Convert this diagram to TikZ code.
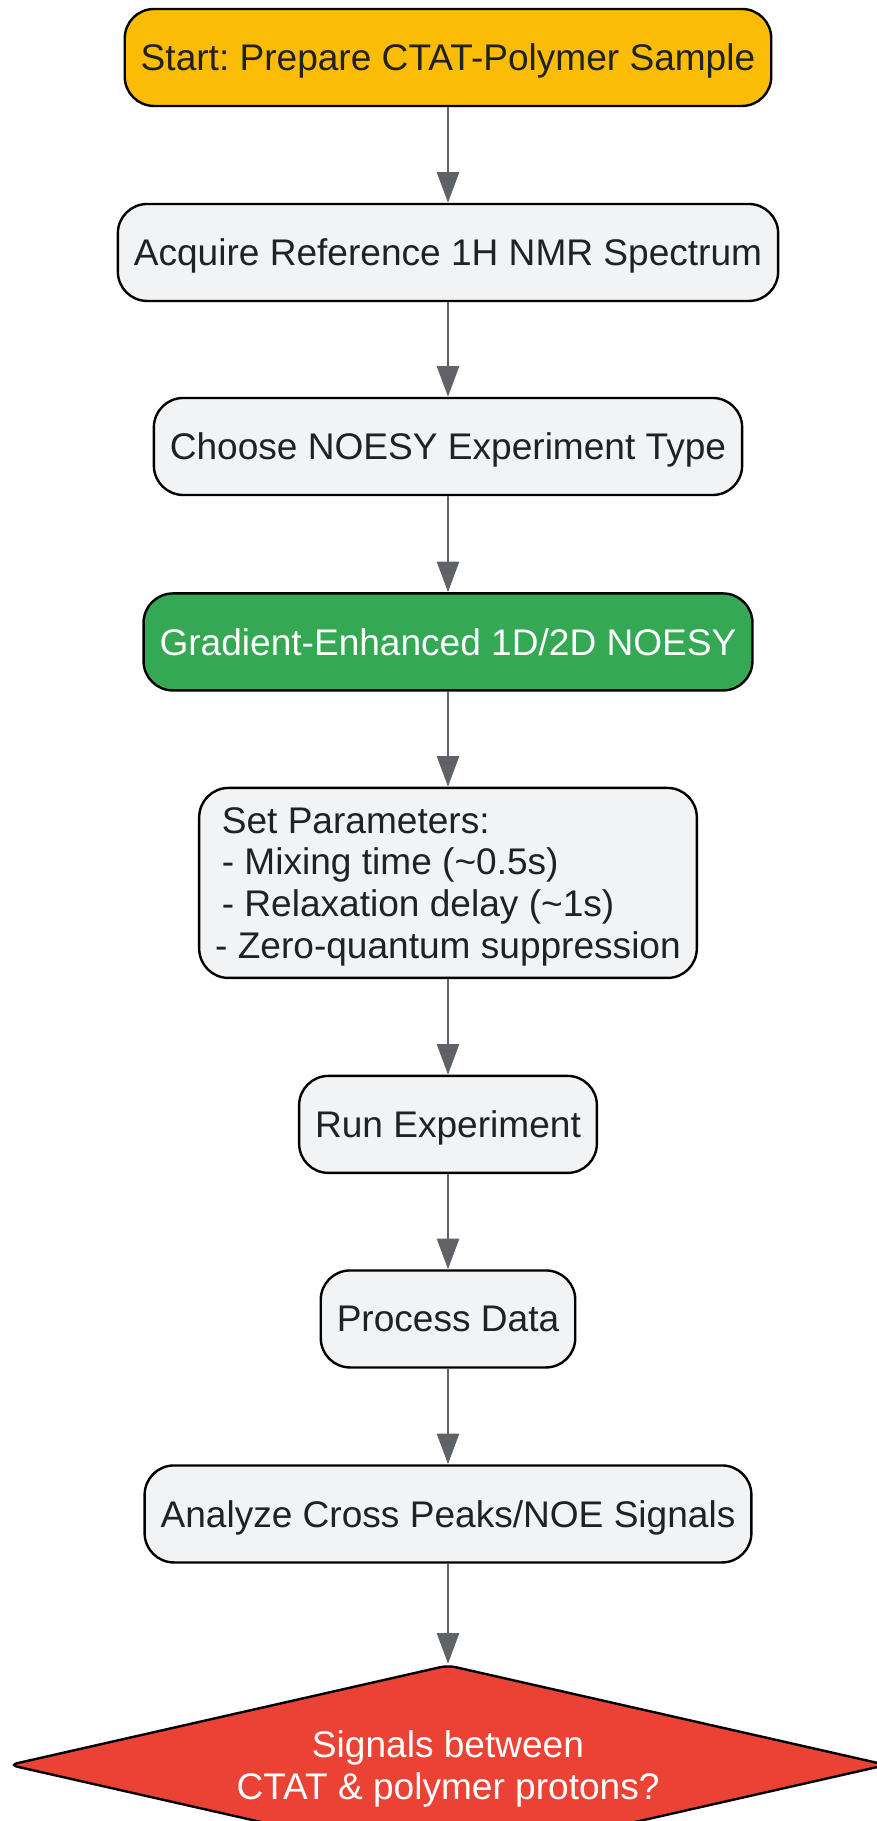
\documentclass[tikz,border=0pt]{standalone}
\usepackage{fontspec}
\setmainfont{Liberation Sans}
\frenchspacing
\usetikzlibrary{shapes.geometric,arrows.meta,positioning}

\definecolor{startyellow}{HTML}{FBBC05}
\definecolor{stepgray}{HTML}{F1F3F4}
\definecolor{noesygreen}{HTML}{34A853}
\definecolor{decisionred}{HTML}{EA4335}
\definecolor{textdark}{HTML}{202124}
\definecolor{arrowgray}{HTML}{5F6368}

\tikzset{
  procbox/.style={draw=black, line width=1.8pt, rectangle, rounded corners=22pt,
    fill=stepgray, text=textdark, minimum height=72.75pt, inner xsep=12pt,
    text depth=0pt, font=\fontsize{27.8}{31.4}\selectfont},
  decision/.style={draw=black, line width=1.8pt, diamond, aspect=4.39,
    rounded corners=6pt, fill=decisionred, text=white, align=center,
    minimum width=658.5pt, minimum height=150pt, inner sep=0pt,
    text depth=0pt, font=\fontsize{27.8}{31.4}\selectfont},
  flow/.style={->, draw=arrowgray, line width=2pt}
}

\begin{document}
\begin{tikzpicture}[>={Triangle[length=23pt,width=16.5pt]}]
        \useasboundingbox (0,0) rectangle (657.75pt,-1365.75pt);
        % Nodes
        \node[procbox, fill=startyellow] (start) at (336pt,-43.1pt) {Start: Prepare CTAT-Polymer Sample};
        \node[procbox, below of=start, node distance=146.25pt] (refspec) {Acquire Reference 1H NMR Spectrum};
        \node[procbox, below of=refspec, node distance=145.5pt] (choose) {Choose NOESY Experiment Type};
        \node[procbox, fill=noesygreen, text=white, below of=choose, node distance=146.6pt] (gradnoesy) {Gradient-Enhanced 1D/2D NOESY};
        \node[procbox, align=left, minimum height=142.5pt, below of=gradnoesy, node distance=180.75pt] (params) {\hspace*{5pt}Set Parameters:\\\hspace*{5pt}- Mixing time (\textasciitilde0.5s)\\\hspace*{5pt}- Relaxation delay (\textasciitilde1s)\\- Zero-quantum suppression};
        \node[procbox, below of=params, node distance=181.1pt] (runexp) {Run Experiment};
        \node[procbox, below of=runexp, node distance=145.9pt] (procdata) {Process Data};
        \node[procbox, below of=procdata, node distance=146.25pt] (analyze) {Analyze Cross Peaks/NOE Signals};
        % Decision node
        \node[decision, below of=analyze, node distance=188.25pt] (signals) {Signals between\\CTAT \& polymer protons?};
        % Arrows
        \draw[flow] (start) -- (refspec);
        \draw[flow] (refspec) -- (choose);
        \draw[flow] (choose) -- (gradnoesy);
        \draw[flow] (gradnoesy) -- (params);
        \draw[flow] (params) -- (runexp);
        \draw[flow] (runexp) -- (procdata);
        \draw[flow] (procdata) -- (analyze);
        \draw[flow] (analyze) -- (signals);
    \end{tikzpicture}
\end{document}
